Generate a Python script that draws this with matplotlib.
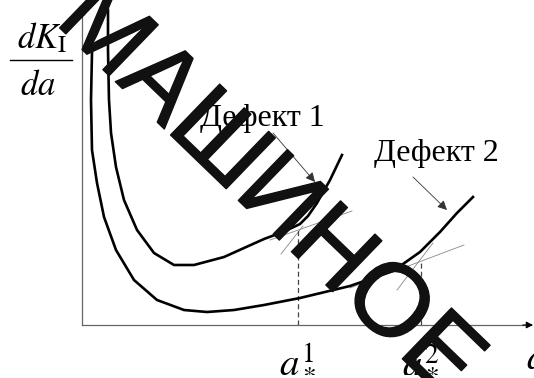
import matplotlib.pyplot as plt
import matplotlib.patheffects as pe
from matplotlib.lines import Line2D

plt.rcParams['mathtext.fontset'] = 'stix'

# curve for defect 1 (upper, shorter)
crack1_a = [0.575, 0.575, 0.597, 0.642, 0.752, 0.929, 1.217, 1.593, 2.035, 2.478,
            3.142, 3.584, 4.027, 4.447, 4.823, 5.000, 5.199, 5.487, 5.752]
crack1_dk = [9.937, 8.675, 7.098, 6.057, 4.984, 3.943, 2.997, 2.271, 1.893, 1.893,
             2.145, 2.429, 2.713, 2.934, 3.186, 3.438, 3.849, 4.574, 5.363]

# curve for defect 2 (lower, longer)
crack2_a = [0.221, 0.199, 0.221, 0.332, 0.487, 0.752, 1.150, 1.659, 2.257, 2.765,
            3.363, 4.027, 4.823, 5.929, 6.881, 7.478, 7.920, 8.296, 8.650]
crack2_dk = [8.580, 7.098, 5.521, 4.479, 3.407, 2.366, 1.420, 0.789, 0.473, 0.410,
             0.473, 0.631, 0.852, 1.230, 1.703, 2.303, 2.934, 3.533, 4.038]

# critical lengths a*1, a*2 and the dK/da level where tangents meet
a_crit = [4.779, 7.500]
dk_crit = [3.028, 1.987]
crit_labels = [r'$a_*^1$', r'$a_*^2$']

# tangent segments (x0, x1), (y0, y1)
tangents = [
    ([4.159, 5.973], [2.681, 3.596]),
    ([4.403, 4.889], [2.240, 3.123]),
    ([5.929, 8.451], [1.167, 2.524]),
    ([6.969, 7.765], [1.104, 2.587]),
]

defect_names = ['Дефект 1', 'Дефект 2']
name_pos = [(3.98, 6.50), (7.83, 5.40)]
pointer_from = [(4.226, 6.057), (7.323, 4.669)]
pointer_to = [(5.155, 4.511), (8.075, 3.628)]

fig = plt.figure(figsize=(5.34, 3.78), dpi=100)
ax = fig.add_axes([82 / 534, 53 / 378, 452 / 534, 317 / 378])
ax.set_xlim(0, 10)
ax.set_ylim(0, 10)
ax.axis('off')

# axes: grey lines, black arrow heads
ax.plot([0, 0], [0, 9.8], color='#666666', lw=0.9, clip_on=False)
ax.plot([0, 9.8], [0, 0], color='#666666', lw=0.9, clip_on=False)
head = dict(arrowstyle='-|>', color='black', lw=0.8, mutation_scale=10, shrinkA=0, shrinkB=0)
ax.annotate('', xy=(0, 10.0), xytext=(0, 9.7), annotation_clip=False, arrowprops=head)
ax.annotate('', xy=(9.98, 0), xytext=(9.75, 0), annotation_clip=False, arrowprops=head)

for xs, ys in tangents:
    ax.plot(xs, ys, color='#888888', lw=0.6)

for a, dk in zip(a_crit, dk_crit):
    ax.plot([a, a], [0, dk], color='#444444', lw=0.9, dashes=(4, 2.5))

ax.plot(crack1_a, crack1_dk, color='black', lw=1.9, solid_joinstyle='round')
ax.plot(crack2_a, crack2_dk, color='black', lw=1.9, solid_joinstyle='round')

for name, pos, p0, p1 in zip(defect_names, name_pos, pointer_from, pointer_to):
    ax.text(pos[0], pos[1], name, family='Liberation Serif', fontsize=23,
            ha='center', va='center')
    ax.annotate('', xy=p1, xytext=p0,
                arrowprops=dict(arrowstyle='-|>', color='#333333', lw=0.6,
                                mutation_scale=14, shrinkA=0, shrinkB=0))

for a, lab in zip(a_crit, crit_labels):
    ax.text(a, -1.05, lab, fontsize=28, ha='center', va='center')
ax.text(10.05, -1.05, r'$a$', fontsize=28, ha='center', va='center', clip_on=False)

# y label as a fraction
fig.text(42 / 534, 1 - 38 / 378, r'$dK_{\mathrm{I}}$', fontsize=25, ha='center', va='center')
fig.add_artist(Line2D([10 / 534, 72 / 534], [1 - 60 / 378, 1 - 60 / 378],
                      transform=fig.transFigure, color='black', lw=1.0))
fig.text(38 / 534, 1 - 85 / 378, r'$da$', fontsize=25, ha='center', va='center')

# stamp across the figure
fig.text(72 / 534, 1 - 3 / 378, 'МАШИНОЕ', family='Liberation Sans', fontsize=74,
         color='#111111', rotation=-44, rotation_mode='anchor',
         ha='left', va='center', zorder=10,
         path_effects=[pe.withStroke(linewidth=1.0, foreground='#111111')])

fig.savefig('out.png', dpi=100)
